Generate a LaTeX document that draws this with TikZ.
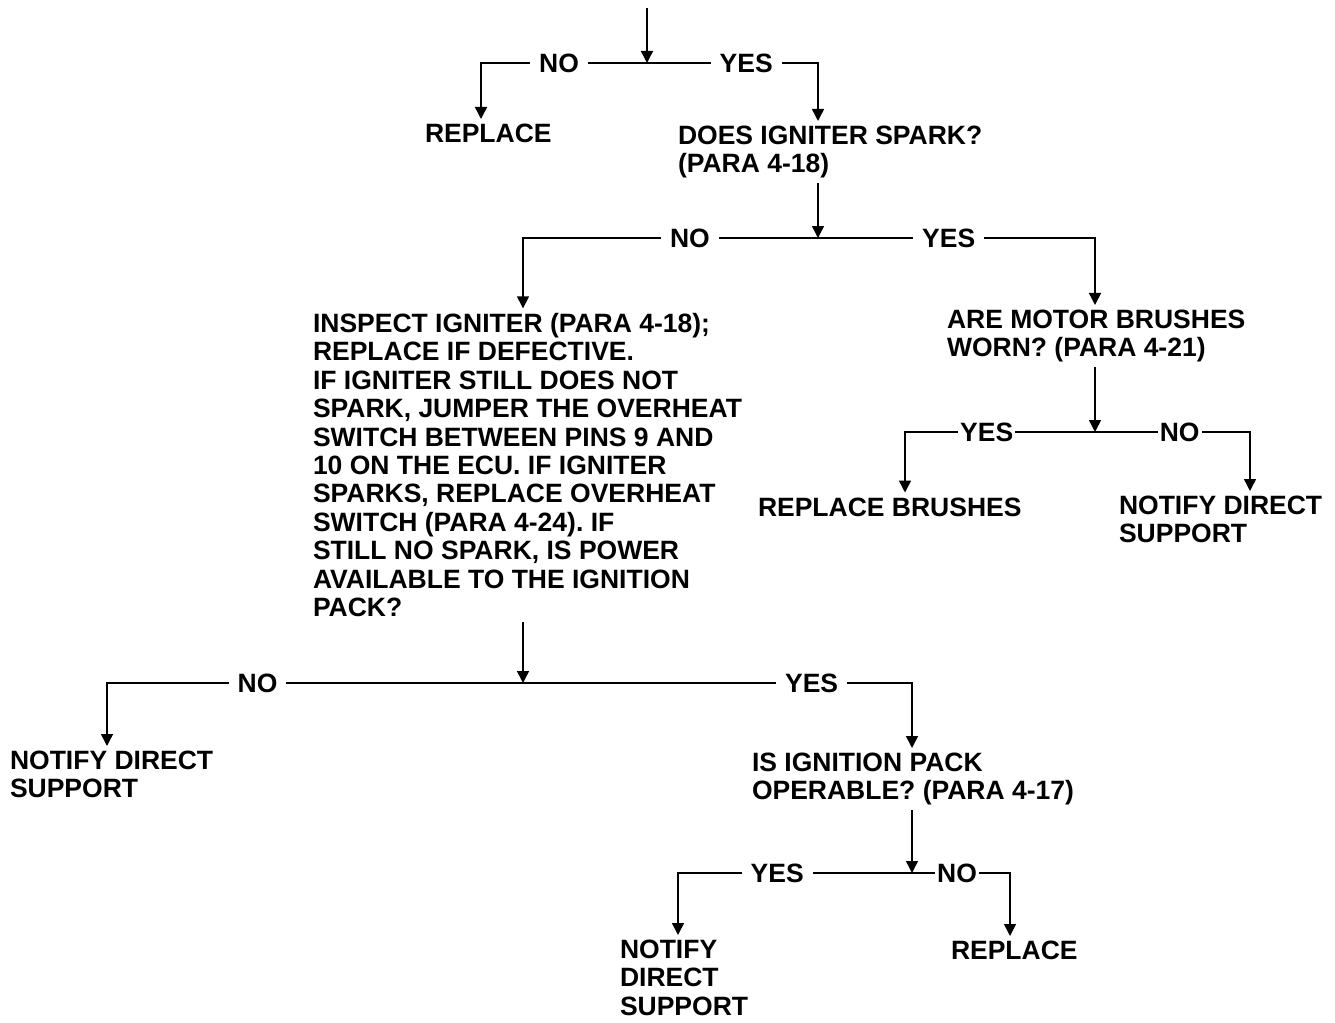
\documentclass[tikz,border=0pt]{standalone}
\usepackage{fontspec}
\setmainfont{Liberation Sans}
\usetikzlibrary{arrows.meta}
\frenchspacing

\begin{document}
\begin{tikzpicture}[x=1pt,y=-1pt,line width=1.5pt,
    arr/.style={-{Triangle[width=12pt,length=12pt]}},
    lbl/.style={fill=white, inner xsep=9pt, inner ysep=2pt, text height=19pt, text depth=0pt,
      font=\fontsize{26.5}{28.4}\selectfont\bfseries}]

        \useasboundingbox (0,0) rectangle (1335,1022);

        % base of a many-line node is the base of its last line
        \begin{scope}[every node/.style={anchor=base west, align=left, inner sep=0pt, outer sep=5pt,
            font=\fontsize{26.5}{28.4}\selectfont\bfseries}]
          \node (rep1)    at (420,142.5) {REPLACE};
          \node (does)    at (673,172.9) {DOES IGNITER SPARK?\\(PARA 4-18)};
          \node (insp)    at (308,616.5) {INSPECT IGNITER (PARA 4-18);\\REPLACE IF DEFECTIVE.\\IF IGNITER STILL DOES NOT\\SPARK, JUMPER THE OVERHEAT\\SWITCH BETWEEN PINS 9 AND\\10 ON THE ECU. IF IGNITER\\SPARKS, REPLACE OVERHEAT\\SWITCH (PARA 4-24). IF\\STILL NO SPARK, IS POWER\\AVAILABLE TO THE IGNITION\\PACK?};
          \node (are)     at (942,356.9) {ARE MOTOR BRUSHES\\WORN? (PARA 4-21)};
          \node (brushes) at (753,516)   {REPLACE BRUSHES};
          \node (notify1) at (1114,542.9) {NOTIFY DIRECT\\SUPPORT};
          \node (notify2) at (5,797.9)   {NOTIFY DIRECT\\SUPPORT};
          \node (ign)     at (747,799.9) {IS IGNITION PACK\\OPERABLE? (PARA 4-17)};
          \node (notify3) at (615,1015.3) {NOTIFY\\DIRECT\\SUPPORT};
          \node (rep2)    at (946,959.5) {REPLACE};
        \end{scope}

        \coordinate (in) at (647,8);
        \coordinate (j1) at (647,63);
        \coordinate (j2) at (818,238);
        \coordinate (j3) at (1095,432);
        \coordinate (j4) at (523,683);
        \coordinate (j5) at (912,873);

        \draw[arr] (in) -- (j1);
        \draw[arr] (j1) -| node[lbl,pos=.265] (n1) {NO} ([xshift=61pt]rep1.north west);
        \draw[arr] (j1) -| node[lbl,pos=.29] (y1) {YES} (j2 |- does.north);

        \draw[arr] (does.south -| j2) -- (j2);
        \draw[arr] (j2) -| node[lbl,pos=.217] (n2) {NO} (j4 |- insp.north);
        \draw[arr] (j2) -| node[lbl,pos=.236] (y2) {YES} (j3 |- are.north);

        \draw[arr] (are.south -| j3) -- (j3);
        \draw[arr] (j3) -| node[lbl,pos=.285,inner xsep=2pt] (y3) {YES} ([xshift=152pt]brushes.north west);
        \draw[arr] (j3) -| node[lbl,pos=.273,inner xsep=2pt] (n3) {NO} ([xshift=136pt]notify1.north west);

        \draw[arr] (insp.south -| j4) -- (j4);
        \draw[arr] (j4) -| node[lbl,pos=.319] (n4) {NO} ([xshift=102pt]notify2.north west);
        \draw[arr] (j4) -| node[lbl,pos=.371] (y4) {YES} (j5 |- ign.north);

        \draw[arr] (ign.south -| j5) -- (j5);
        \draw[arr] (j5) -| node[lbl,pos=.288] (y5) {YES} ([xshift=63pt]notify3.north west);
        \draw[arr] (j5) -| node[lbl,pos=.23,inner xsep=2pt] (n5) {NO} ([xshift=64pt]rep2.north west);

      \end{tikzpicture}
\end{document}
